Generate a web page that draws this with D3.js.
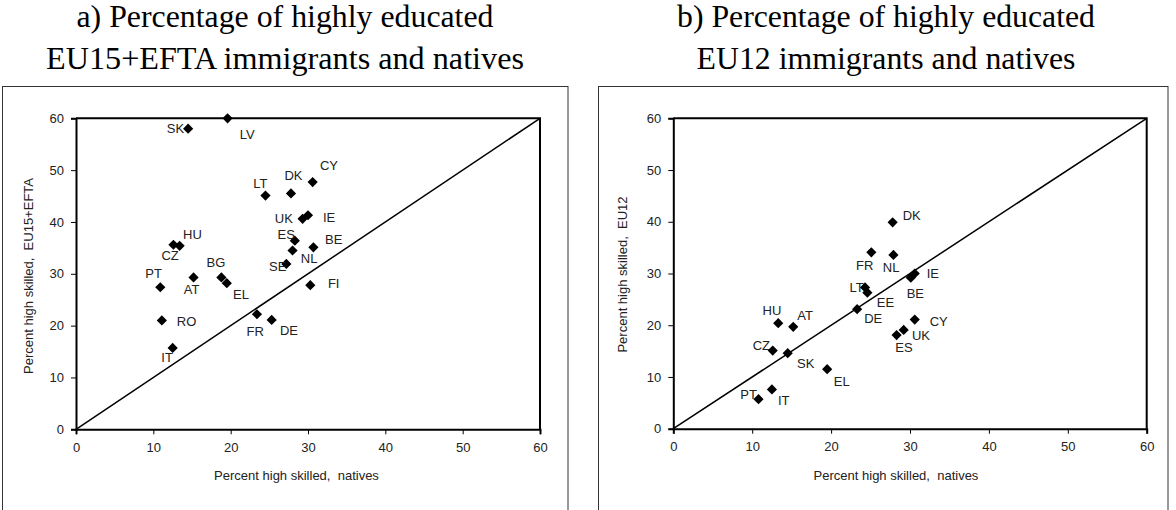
<!DOCTYPE html>
<html>
<head>
<meta charset="utf-8">
<script src="https://cdn.jsdelivr.net/npm/d3@7"></script>
<style>
  html, body { margin: 0; padding: 0; background: #fff; }
  svg { display: block; }
</style>
</head>
<body>
<svg id="chart" width="1176" height="510"></svg>
<script>
// ---------- DATA ----------
const countriesA  = ["SK","LV","LT","DK","CY","UK","IE","ES","BE","NL","SE","FI","HU","CZ","PT","AT","BG","EL","RO","IT","FR","DE"];
const nativesA    = [14.5,19.6,24.5,27.8,30.6,29.3,30.0,28.3,30.7,28.0,27.2,30.3,13.4,12.6,10.9,15.2,18.8,19.5,11.1,12.5,23.4,25.3];
const immigrantsA = [58.0,60.0,45.1,45.5,47.7,40.6,41.3,36.4,35.1,34.5,31.9,27.8,35.4,35.6,27.4,29.3,29.3,28.2,21.0,15.7,22.2,21.1];

const countriesB  = ["DK","FR","NL","IE","BE","LT","EE","DE","HU","AT","CZ","SK","EL","PT","IT","CY","UK","ES"];
const nativesB    = [27.8,25.1,27.9,30.6,30.1,24.3,24.6,23.3,13.3,15.2,12.6,14.5,19.5,10.8,12.5,30.6,29.2,28.3];
const immigrantsB = [39.9,34.1,33.6,30.0,29.2,27.3,26.3,23.1,20.4,19.7,15.1,14.6,11.5,5.7,7.6,21.1,19.1,18.1];

const xTicks = [0,10,20,30,40,50,60];
const yTicks = [0,10,20,30,40,50,60];

const titleA = ["a) Percentage of highly educated", "EU15+EFTA immigrants and natives"];
const titleB = ["b) Percentage of highly educated", "EU12 immigrants and natives"];
const xTitle = "Percent high skilled,\u00A0 natives";
const yTitleA = "Percent high skilled,\u00A0 EU15+EFTA";
const yTitleB = "Percent high skilled,\u00A0 EU12";

// ---------- LAYOUT (label placement relative to marker: anchor, dx, dy) ----------
const labelPosA = {
  SK:["end",-4,0], LV:["start",12.3,15.6], LT:["middle",-5,-11.7], DK:["middle",2.5,-18],
  CY:["start",7.3,-16.6], UK:["end",-9.7,-0.7], IE:["start",15,1.7], ES:["end",0,-6.7],
  BE:["start",11.7,-8.3], NL:["start",8.3,8.3], SE:["end",0,2.7], FI:["start",17.6,-1.7],
  HU:["start",3.4,-11], CZ:["middle",-3.3,11], PT:["middle",-6.7,-14], BG:["middle",-5.5,-14.6],
  AT:["middle",-2,11.7], EL:["start",6.3,11.7], RO:["start",15,1], IT:["middle",-5.6,9.6],
  FR:["middle",-1.7,17.4], DE:["start",8.3,10]
};
const labelPosB = {
  DK:["start",10,-6.6], FR:["middle",-6.7,12.7], NL:["middle",-2.3,12.7], IE:["start",12,-0.3],
  BE:["middle",4.6,15.7], LT:["end",-1.3,0], EE:["start",9.4,9.6], DE:["start",7,9],
  HU:["middle",-6.3,-12.6], AT:["start",4,-11], CZ:["end",-2.7,-5], SK:["start",9.4,10],
  EL:["start",6.7,12.4], PT:["end",-1.6,-5.3], IT:["start",6,11.4], CY:["start",15,1.7],
  UK:["start",8.3,5.7], ES:["middle",7.4,12.7]
};

const panels = [
  { box:[2.5,86.5,565.5], plot:{x0:76, x1:540, y0:429.3, y1:118.3}, titleCx:285, titleW:[417,478],
    title:titleA, yTitle:yTitleA, yTitleX:28.3, yTitleY:276, xTitleX:296.5,
    countries:countriesA, xs:nativesA, ys:immigrantsA, pos:labelPosA },
  { box:[598.5,86.5,569.5], plot:{x0:673.3, x1:1146.7, y0:428.7, y1:118.3}, titleCx:886, titleW:[418,379],
    title:titleB, yTitle:yTitleB, yTitleX:622.5, yTitleY:274.5, xTitleX:896,
    countries:countriesB, xs:nativesB, ys:immigrantsB, pos:labelPosB }
];

const svg = d3.select("#chart");
const sans = "'Liberation Sans', Arial, sans-serif";
const serif = "'Liberation Serif', 'Times New Roman', serif";

panels.forEach(p => {
  const g = svg.append("g");

  // titles
  g.append("text").attr("x", p.titleCx).attr("y", 27).attr("text-anchor","middle")
    .attr("font-family", serif).attr("font-size", 31.8).attr("fill","#000")
    .attr("textLength", p.titleW[0]).attr("lengthAdjust","spacingAndGlyphs").text(p.title[0]);
  g.append("text").attr("x", p.titleCx).attr("y", 68.5).attr("text-anchor","middle")
    .attr("font-family", serif).attr("font-size", 31.8).attr("fill","#000")
    .attr("textLength", p.titleW[1]).attr("lengthAdjust","spacingAndGlyphs").text(p.title[1]);

  // outer frame
  g.append("rect").attr("x", p.box[0]).attr("y", p.box[1]).attr("width", p.box[2]).attr("height", 460)
    .attr("fill","none").attr("stroke","#333").attr("stroke-width",1);

  const x = d3.scaleLinear().domain([0,60]).range([p.plot.x0, p.plot.x1]);
  const y = d3.scaleLinear().domain([0,60]).range([p.plot.y0, p.plot.y1]);

  // plot border (top & right)
  g.append("path")
    .attr("d", `M${x(0)},${y(60)}H${x(60)}V${y(0)}`)
    .attr("fill","none").attr("stroke","#000").attr("stroke-width",2);

  // axes
  const xAxis = d3.axisBottom(x).tickValues(xTicks).tickSize(5).tickPadding(5).tickFormat(d3.format("d"));
  const yAxis = d3.axisLeft(y).tickValues(yTicks).tickSize(5).tickPadding(7).tickFormat(d3.format("d"));

  const gx = g.append("g").attr("transform", `translate(0,${y(0)})`).call(xAxis);
  const gy = g.append("g").attr("transform", `translate(${x(0)},0)`).call(yAxis);
  [gx, gy].forEach(a => {
    a.select(".domain").attr("stroke","#000").attr("stroke-width",2);
    a.selectAll(".tick line").attr("stroke","#000").attr("stroke-width",1);
    a.selectAll(".tick text").attr("font-family", sans).attr("font-size", 13).attr("fill","#222");
  });
  gx.selectAll(".tick text").attr("dy","0.95em");

  // diagonal
  g.append("line")
    .attr("x1", x(0)).attr("y1", y(0)).attr("x2", x(60)).attr("y2", y(60))
    .attr("stroke","#000").attr("stroke-width",1.5);

  // axis titles
  g.append("text").attr("x", p.xTitleX).attr("y", 479.5).attr("text-anchor","middle")
    .attr("font-family", sans).attr("font-size", 13).attr("fill","#222").text(xTitle);
  g.append("text").attr("transform", `translate(${p.yTitleX + 4.5},${p.yTitleY}) rotate(-90)`)
    .attr("text-anchor","middle")
    .attr("font-family", sans).attr("font-size", 13).attr("fill","#222").text(p.yTitle);

  // points
  const pts = p.countries.map((c,i) => ({c, vx:p.xs[i], vy:p.ys[i]}));
  const sym = d3.symbol().type(d3.symbolSquare).size(52);
  g.selectAll("path.pt").data(pts).enter().append("path").attr("class","pt")
    .attr("d", sym)
    .attr("transform", d => `translate(${x(d.vx)},${y(d.vy)}) rotate(45)`)
    .attr("fill","#000");

  // labels
  g.selectAll("text.lbl").data(pts).enter().append("text").attr("class","lbl")
    .attr("x", d => x(d.vx) + p.pos[d.c][1])
    .attr("y", d => y(d.vy) + p.pos[d.c][2] + 4.6)
    .attr("text-anchor", d => p.pos[d.c][0])
    .attr("font-family", sans).attr("font-size", 13).attr("fill","#222")
    .text(d => d.c);
});
</script>
</body>
</html>
